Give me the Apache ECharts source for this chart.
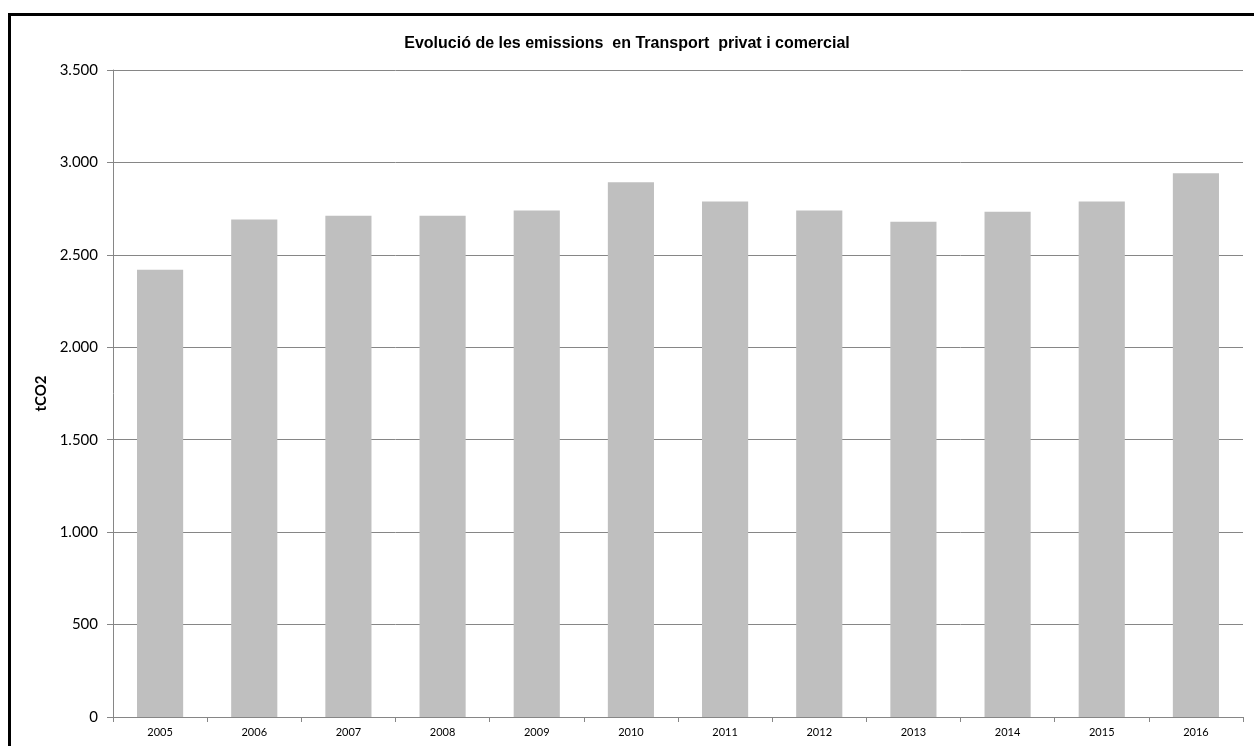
<!DOCTYPE html>
<html>
<head>
<meta charset="utf-8">
<script src="https://cdn.jsdelivr.net/npm/echarts@6/dist/echarts.min.js"></script>
<style>
html,body{margin:0;padding:0;background:#fff;}
#frame{position:absolute;left:8px;top:13px;width:1300px;height:800px;border:3px solid #000;box-sizing:border-box;}
#chart{position:absolute;left:0;top:0;width:1254px;height:746px;}
</style>
</head>
<body>
<div id="frame"></div>
<div id="chart"></div>
<script>
const categories = ['2005','2006','2007','2008','2009','2010','2011','2012','2013','2014','2015','2016'];
const emissions = [2419, 2691, 2711, 2711, 2740, 2893, 2789, 2740, 2679, 2733, 2789, 2942];
const chartTitle = 'Evolució de les emissions  en Transport  privat i comercial';
const yName = 'tCO2';

const chart = echarts.init(document.getElementById('chart'), null, {renderer:'canvas'});
chart.setOption({
  backgroundColor: 'transparent',
  animation: false,
  title: {
    text: chartTitle,
    left: 'center',
    top: 31,
    textStyle: {fontFamily: 'Liberation Sans, Arial, sans-serif', fontSize: 16, fontWeight: 'bold', color: '#000'}
  },
  grid: {left: 113, top: 70, right: 11, bottom: 29, containLabel: false},
  xAxis: {
    type: 'category',
    data: categories,
    axisLine: {show: true, lineStyle: {color: '#868686', width: 1}},
    axisTick: {show: true, length: 5, alignWithLabel: false, lineStyle: {color: '#868686'}},
    axisLabel: {fontFamily: 'Lato, Open Sans, sans-serif', fontSize: 11, color: '#000', margin: 10}
  },
  yAxis: {
    type: 'value',
    min: 0, max: 3500, interval: 500,
    name: yName,
    nameLocation: 'middle',
    nameGap: 60,
    nameRotate: 90,
    nameTextStyle: {fontFamily: 'Lato, Open Sans, sans-serif', fontSize: 15, fontWeight: 'bold', color: '#000'},
    axisLine: {show: true, lineStyle: {color: '#868686', width: 1}},
    axisTick: {show: true, length: 6, lineStyle: {color: '#868686'}},
    axisLabel: {
      fontFamily: 'Lato, Open Sans, sans-serif', fontSize: 15, color: '#000', margin: 15,
      formatter: v => v >= 1000 ? Math.floor(v/1000) + '.' + String(v%1000).padStart(3,'0') : String(v)
    },
    splitLine: {show: true, lineStyle: {color: '#868686', width: 1}}
  },
  series: [{
    type: 'bar',
    data: emissions,
    barWidth: '49%',
    itemStyle: {color: '#bfbfbf'}
  }]
});
</script>
</body>
</html>
